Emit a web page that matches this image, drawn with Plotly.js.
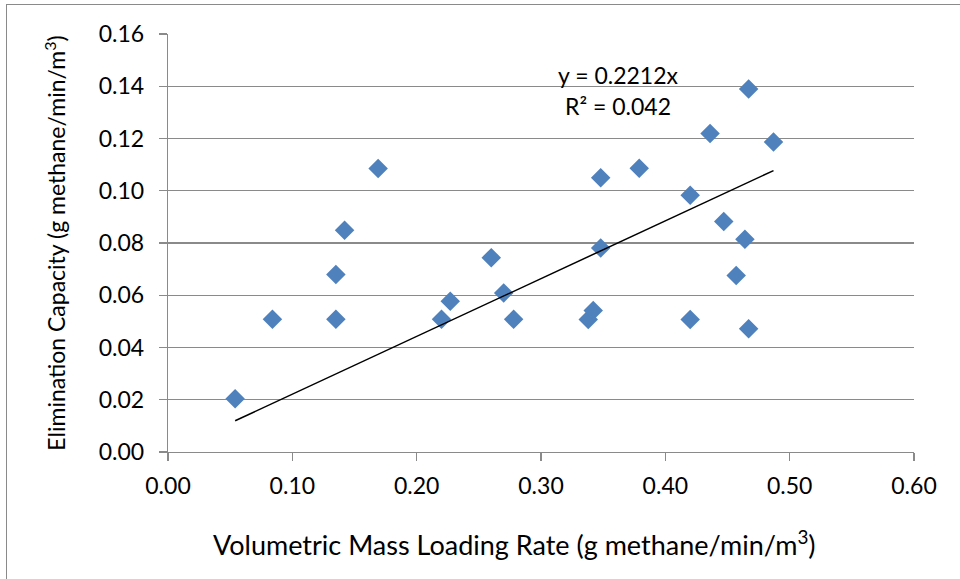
<!DOCTYPE html>
<html>
<head>
<meta charset="utf-8">
<script src="https://cdn.plot.ly/plotly-3.0.1.min.js"></script>
<style>
  html, body { margin: 0; padding: 0; background: #fff; overflow: hidden; }
  #frame { position: absolute; left: 6px; top: 4px; width: 1000px; height: 640px; border: 1px solid #8a8a8a; box-sizing: border-box; pointer-events: none; }
  #chart { position: absolute; left: 0; top: 0; width: 960px; height: 579px; }
</style>
</head>
<body>
<div id="chart"></div>
<div id="frame"></div>
<script>
// Volumetric mass loading rate (g methane/min/m3)
const loadingRate = [0.054, 0.084, 0.135, 0.135, 0.142, 0.169, 0.220, 0.227, 0.260, 0.270,
                     0.278, 0.338, 0.342, 0.348, 0.348, 0.379, 0.420, 0.420, 0.436, 0.447,
                     0.457, 0.464, 0.467, 0.467, 0.487];
// Elimination capacity (g methane/min/m3)
const eliminationCapacity = [0.0204, 0.0508, 0.0679, 0.0508, 0.0849, 0.1085, 0.0508, 0.0577, 0.0744, 0.0609,
                             0.0508, 0.0507, 0.0542, 0.1050, 0.0781, 0.1086, 0.0983, 0.0507, 0.1219, 0.0882,
                             0.0676, 0.0814, 0.1389, 0.0472, 0.1187];
const slope = 0.2212;
const rSquared = 0.042;
const xTicks = [0, 0.1, 0.2, 0.3, 0.4, 0.5, 0.6];
const yTicks = [0, 0.02, 0.04, 0.06, 0.08, 0.10, 0.12, 0.14, 0.16];
const xTitle = 'Volumetric Mass Loading Rate (g methane/min/m<sup>3</sup>)';
const yTitle = 'Elimination Capacity (g methane/min/m<sup>3</sup>)';

const xMin = Math.min(...loadingRate);
const xMax = Math.max(...loadingRate);

const FONT = 'Lato, "Liberation Sans", sans-serif';

const data = [
  {
    type: 'scatter', mode: 'markers',
    x: loadingRate, y: eliminationCapacity,
    marker: { symbol: 'diamond', size: 15, color: '#4F81BD', line: { width: 0 } },
    hoverinfo: 'x+y', showlegend: false
  },
  {
    type: 'scatter', mode: 'lines',
    x: [xMin, xMax], y: [slope * xMin, slope * xMax],
    line: { color: '#000000', width: 1.5 },
    hoverinfo: 'skip', showlegend: false
  }
];

const layout = {
  width: 960, height: 579,
  margin: { l: 168, r: 46, t: 34, b: 127, pad: 0 },
  paper_bgcolor: '#ffffff', plot_bgcolor: '#ffffff',
  font: { family: FONT, color: '#000000', size: 23 },
  showlegend: false,
  xaxis: {
    range: [0, 0.6], tickvals: xTicks, ticktext: xTicks.map(v => v.toFixed(2)),
    showgrid: false, zeroline: false,
    showline: true, linecolor: '#8a8a8a', linewidth: 1.3,
    ticks: 'outside', ticklen: 8, tickcolor: '#8a8a8a', tickwidth: 1.3,
    ticklabelstandoff: 5,
    tickfont: { family: FONT, size: 23, color: '#000' },
    fixedrange: true
  },
  yaxis: {
    range: [0, 0.16], tickvals: yTicks, ticktext: yTicks.map(v => v.toFixed(2)),
    showgrid: true, gridcolor: '#8a8a8a', gridwidth: 1.3,
    zeroline: false,
    showline: true, linecolor: '#8a8a8a', linewidth: 1.3,
    ticks: 'outside', ticklen: 8, tickcolor: '#8a8a8a', tickwidth: 1.3,
    ticklabelstandoff: 10,
    tickfont: { family: FONT, size: 23, color: '#000' },
    title: { text: yTitle, font: { family: FONT, size: 23, color: '#000' }, standoff: 26 },
    fixedrange: true
  },
  annotations: [
    { x: 0.362, y: 0.1442, xref: 'x', yref: 'y', text: 'y = ' + slope + 'x', showarrow: false,
      font: { family: FONT, size: 23, color: '#000' } },
    { x: 0.362, y: 0.1323, xref: 'x', yref: 'y', text: 'R² = ' + rSquared, showarrow: false,
      font: { family: FONT, size: 23, color: '#000' } },
    { x: 0.4645, y: -0.2177, xref: 'paper', yref: 'paper', text: xTitle, showarrow: false,
      xanchor: 'center', yanchor: 'middle',
      font: { family: FONT, size: 27, color: '#000' } }
  ]
};

Plotly.newPlot('chart', data, layout, { staticPlot: true, displayModeBar: false });
</script>
</body>
</html>
